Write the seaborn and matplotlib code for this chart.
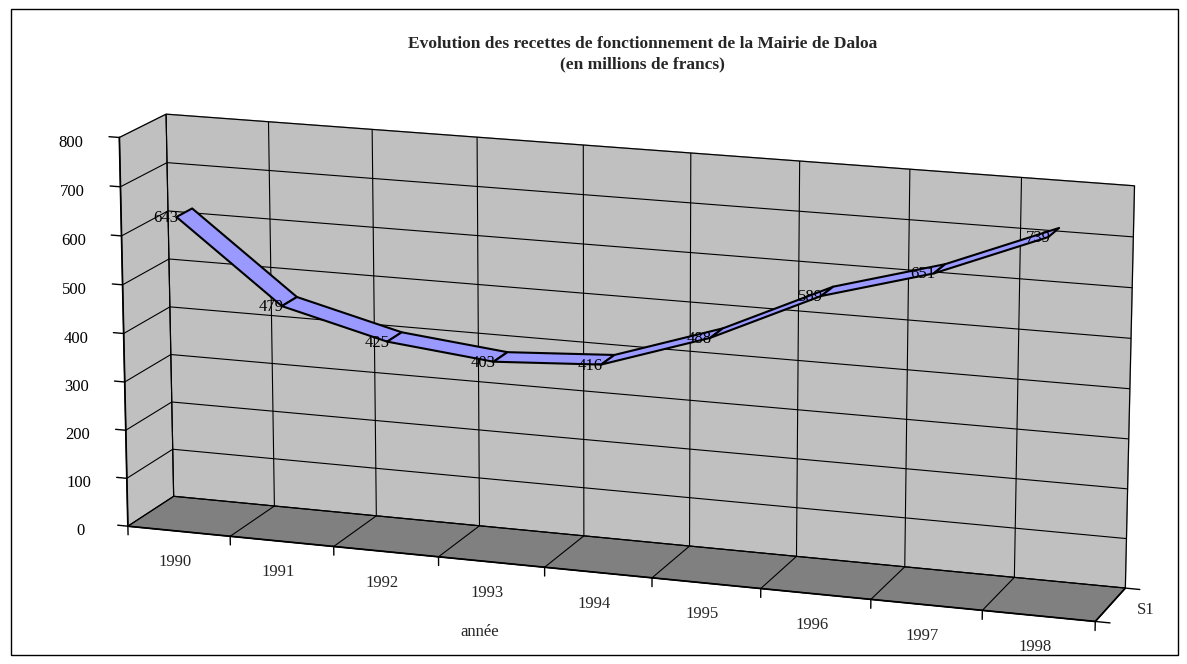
import seaborn as sns
import matplotlib.pyplot as plt
import numpy as np
from matplotlib.patches import Rectangle
from mpl_toolkits.mplot3d import proj3d
from mpl_toolkits.mplot3d.art3d import Poly3DCollection

annees = ["1990", "1991", "1992", "1993", "1994", "1995", "1996", "1997", "1998"]
recettes = [643, 479, 425, 403, 416, 488, 589, 651, 739]
z_ticks = [0, 100, 200, 300, 400, 500, 600, 700, 800]

sns.set_theme(style="ticks")
plt.rcParams["font.family"] = ["Liberation Serif", "DejaVu Serif"]
plt.rcParams["grid.color"] = "black"
plt.rcParams["grid.linewidth"] = 0.8
plt.rcParams["axes.edgecolor"] = "black"
plt.rcParams["xtick.color"] = "black"
plt.rcParams["ytick.color"] = "black"

fig = plt.figure(figsize=(11.87, 6.64), dpi=100)
fig.patches.append(Rectangle((0.009, 0.013), 0.983, 0.974, transform=fig.transFigure,
                             fill=False, edgecolor="black", linewidth=1))

# 3d axes larger than the figure so nothing gets masked at zoom=1
ax = fig.add_axes([0.055, -0.375, 0.906, 1.62], projection="3d")
ax.set_proj_type("persp", focal_length=1.0)
ax.view_init(elev=14.5, azim=-71)
ax.set_box_aspect((1032, 120, 412), zoom=1.0)

n = len(annees)

# walls and floor
ax.xaxis.set_pane_color("#C0C0C0")
ax.yaxis.set_pane_color("#C0C0C0")
ax.zaxis.set_pane_color("#808080")
for a in (ax.xaxis, ax.yaxis, ax.zaxis):
    a.pane.set_edgecolor("#808080")
    a.pane.set_alpha(1)
    a.label.set_visible(False)
    a.offsetText.set_visible(False)
    a._axinfo["tick"].update(inward_factor=0.0, outward_factor=0.0)

ax.set_xticks(np.arange(n + 1))
ax.set_yticks([0, 1])
for t in ax.xaxis.get_major_ticks() + ax.yaxis.get_major_ticks():
    t.label1.set_visible(False)
ax.set_zticks(z_ticks)
ax.set_zticklabels([str(t) for t in z_ticks], fontsize=12)
ax.zaxis.set_ticks_position("lower")
ax.tick_params(axis="z", pad=12)
ax.grid(True)

# tick marks like the original chart
for i in range(n + 1):
    ax.plot([i, i], [0, 0], [0, -18], color="black", lw=1)
for z in z_ticks:
    ax.plot([0, -0.1], [0, 0], [z, z], color="black", lw=1)
for yy in (0, 1):
    ax.plot([n, n + 0.13], [yy, yy], [0, 0], color="black", lw=1)

# ribbon
x = np.arange(n) + 0.5
y0, y1 = 0.08, 0.42
quads = []
for i in range(n - 1):
    quads.append([(x[i], y0, recettes[i]), (x[i + 1], y0, recettes[i + 1]),
                  (x[i + 1], y1, recettes[i + 1]), (x[i], y1, recettes[i])])
ribbon = Poly3DCollection(quads, facecolor="#9999FF", edgecolor="black", linewidth=1.5)
ax.add_collection3d(ribbon)

ax.set_xlim(0, n)
ax.set_ylim(0, 1)
ax.set_zlim(0, 800)

# labels placed at the projected 3d positions
M = ax.get_proj()
px, py, _ = proj3d.proj_transform(x, np.full(n, y0), np.array(recettes, float), M)
for a, b, v in zip(px, py, recettes):
    ax.annotate(str(v), (a, b), xytext=(2, -1), textcoords="offset pixels",
                ha="right", va="center", fontsize=12, color="black", zorder=10)

px, py, _ = proj3d.proj_transform(x, np.zeros(n), np.zeros(n), M)
for a, b, lab in zip(px, py, annees):
    ax.annotate(lab, (a, b), xytext=(-4, -31), textcoords="offset pixels",
                ha="center", va="center", fontsize=12, zorder=10)

sx, sy, _ = proj3d.proj_transform(n, 0.5, 0, M)
ax.annotate("S1", (sx, sy), xytext=(26, -5), textcoords="offset pixels",
            ha="left", va="center", fontsize=12, zorder=10)

fig.text(0.404, 1 - 632 / 664, "année", ha="center", va="center", fontsize=12)
fig.text(0.541, 1 - 44 / 664, "Evolution des recettes de fonctionnement de la Mairie de Daloa",
         ha="center", va="center", fontsize=12.5, fontweight="bold")
fig.text(0.541, 1 - 64 / 664, "(en millions de francs)",
         ha="center", va="center", fontsize=12.5, fontweight="bold")

fig.savefig("out.png", dpi=100)
